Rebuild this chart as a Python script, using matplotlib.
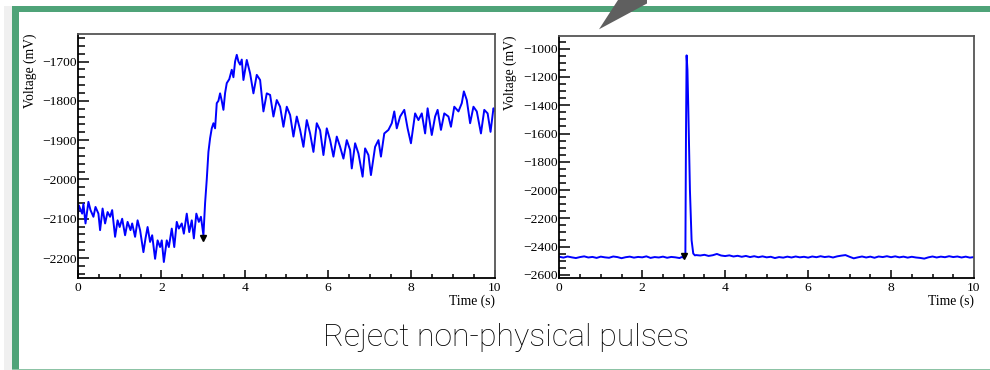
import matplotlib
matplotlib.use("Agg")
import matplotlib.pyplot as plt
import matplotlib.ticker as ticker
from matplotlib.patches import Rectangle, Polygon

# Pulse that is too slow / too long: time (s) and voltage (mV)
slow_t = [0.00, 0.02, 0.10, 0.13, 0.18, 0.25, 0.30, 0.37, 0.42, 0.49, 0.53, 0.59, 0.65, 0.71, 0.77,
          0.82, 0.89, 0.95, 1.00, 1.06, 1.13, 1.19, 1.26, 1.30, 1.37, 1.43, 1.49, 1.57, 1.62, 1.67,
          1.73, 1.78, 1.85, 1.91, 1.97, 2.01, 2.06, 2.13, 2.18, 2.25, 2.31, 2.37, 2.42, 2.49, 2.54,
          2.61, 2.67, 2.73, 2.78, 2.84, 2.90, 2.95, 3.01, 3.05, 3.09, 3.13, 3.17, 3.21, 3.25, 3.29,
          3.33, 3.37, 3.41, 3.45, 3.49, 3.53, 3.57, 3.63, 3.69, 3.73, 3.77, 3.81, 3.85, 3.89, 3.93,
          3.97, 4.05, 4.13, 4.21, 4.29, 4.37, 4.45, 4.53, 4.61, 4.69, 4.77, 4.85, 4.93, 5.01, 5.09,
          5.17, 5.25, 5.33, 5.41, 5.49, 5.57, 5.65, 5.73, 5.81, 5.89, 5.97, 6.05, 6.13, 6.21, 6.29,
          6.37, 6.45, 6.53, 6.57, 6.65, 6.73, 6.83, 6.89, 6.97, 7.03, 7.13, 7.21, 7.27, 7.35, 7.45,
          7.53, 7.59, 7.65, 7.73, 7.83, 7.91, 7.99, 8.09, 8.17, 8.25, 8.33, 8.39, 8.49, 8.57, 8.63,
          8.71, 8.79, 8.89, 8.95, 9.03, 9.13, 9.21, 9.26, 9.33, 9.41, 9.49, 9.57, 9.67, 9.75, 9.83,
          9.90, 9.97, 10.00]
slow_v = [-2085, -2066, -2087, -2062, -2112, -2057, -2078, -2095, -2070, -2087, -2129, -2074, -2112, -2083, -2095,
          -2078, -2146, -2104, -2121, -2100, -2142, -2108, -2129, -2112, -2146, -2104, -2129, -2185, -2150, -2121,
          -2159, -2142, -2202, -2155, -2172, -2155, -2210, -2155, -2172, -2125, -2172, -2108, -2125, -2112, -2138,
          -2087, -2134, -2104, -2150, -2087, -2108, -2095, -2142, -2060, -2000, -1930, -1895, -1870, -1857, -1870,
          -1806, -1800, -1781, -1800, -1823, -1780, -1755, -1745, -1721, -1740, -1700, -1683, -1700, -1708, -1695,
          -1747, -1696, -1730, -1781, -1734, -1747, -1827, -1781, -1785, -1840, -1798, -1815, -1866, -1815, -1836,
          -1891, -1840, -1874, -1917, -1849, -1883, -1930, -1857, -1875, -1938, -1870, -1900, -1942, -1891, -1917,
          -1947, -1900, -1925, -1972, -1908, -1934, -1993, -1921, -1938, -1989, -1917, -1900, -1942, -1883, -1874,
          -1857, -1827, -1870, -1840, -1823, -1870, -1908, -1832, -1849, -1832, -1883, -1819, -1887, -1840, -1823,
          -1874, -1832, -1840, -1866, -1815, -1827, -1806, -1776, -1798, -1857, -1815, -1827, -1883, -1823, -1832,
          -1879, -1819, -1825]

# Short spike on a flat baseline
spike_t = [0.0, 0.1, 0.2, 0.3, 0.4, 0.5, 0.6, 0.7, 0.8, 0.9, 1.0, 1.1, 1.2, 1.3, 1.4,
           1.5, 1.6, 1.7, 1.8, 1.9, 2.0, 2.1, 2.2, 2.3, 2.4, 2.5, 2.6, 2.7, 2.8, 2.9,
           2.95, 3.0, 3.04, 3.055, 3.07, 3.09, 3.11, 3.15, 3.19, 3.23, 3.27,
           3.3, 3.4, 3.5, 3.6, 3.7, 3.8, 3.9, 4.0, 4.1, 4.2, 4.3, 4.4, 4.5, 4.6,
           4.7, 4.8, 4.9, 5.0, 5.1, 5.2, 5.3, 5.4, 5.5, 5.6, 5.7, 5.8, 5.9, 6.0,
           6.1, 6.2, 6.3, 6.4, 6.5, 6.6, 6.7, 6.8, 6.9, 7.0, 7.1, 7.2, 7.3, 7.4,
           7.5, 7.6, 7.7, 7.8, 7.9, 8.0, 8.1, 8.2, 8.3, 8.4, 8.5, 8.6, 8.7, 8.8,
           8.9, 9.0, 9.1, 9.2, 9.3, 9.4, 9.5, 9.6, 9.7, 9.8, 9.9, 10.0]
spike_v = [-2472, -2478, -2470, -2476, -2481, -2474, -2469, -2477, -2473, -2480, -2471, -2476, -2479, -2470, -2474,
           -2482, -2475, -2471, -2478, -2473, -2476, -2469, -2480, -2474, -2477, -2471, -2479, -2473, -2476, -2481,
           -2474, -2478, -2470, -1600, -1047, -1150, -1413, -2001, -2355, -2449, -2462,
           -2460, -2463, -2458, -2466, -2461, -2452, -2463, -2467, -2462, -2470, -2465, -2472, -2466, -2474,
           -2468, -2475, -2469, -2476, -2472, -2481, -2474, -2478, -2471, -2477, -2470, -2476, -2472, -2478,
           -2470, -2475, -2468, -2474, -2470, -2477, -2469, -2464, -2460, -2472, -2483, -2476, -2470, -2477,
           -2471, -2479, -2470, -2474, -2468, -2475, -2469, -2476, -2471, -2478, -2472, -2477, -2480, -2485,
           -2476, -2470, -2477, -2471, -2475, -2468, -2474, -2470, -2477, -2471, -2478, -2474]

# trigger positions marked on each trace
trig_slow = (3.0, -2150)
trig_spike = (3.0, -2470)

plt.rcParams['font.family'] = ['Liberation Serif', 'DejaVu Serif']

fig = plt.figure(figsize=(9.9, 3.7), dpi=100)

# slide frame: shadow, green borders, pointer
W, H = 990.0, 370.0
def px(x, y):
  return (x / W, 1 - y / H)

fig.patches.append(Rectangle(px(4, 370), 8 / W, 364 / H, transform=fig.transFigure,
                             facecolor='#f0f0f0', edgecolor='none', zorder=0))
fig.patches.append(Rectangle(px(12, 370), 6.5 / W, 364 / H, transform=fig.transFigure,
                             facecolor='#4fa378', edgecolor='none', zorder=1))
fig.patches.append(Rectangle(px(12, 11.7), 978 / W, 5.7 / H, transform=fig.transFigure,
                             facecolor='#4fa378', edgecolor='none', zorder=1))
fig.patches.append(Rectangle(px(12, 370), 978 / W, 1.5 / H, transform=fig.transFigure,
                             facecolor='#8cc3a5', edgecolor='none', zorder=1))
fig.patches.append(Polygon([px(599, 29.3), px(618, 0), px(647, 0), px(647, 3.5)],
                           closed=True, transform=fig.transFigure,
                           facecolor='#5f5f5f', edgecolor='none', zorder=2))

ax1 = fig.add_axes([78 / W, 1 - 277.7 / H, 416.7 / W, 243.7 / H])
ax2 = fig.add_axes([559.3 / W, 1 - 277.7 / H, 414.7 / W, 241.7 / H])

def style_axis(ax, ymajor, yminor_div):
  ax.set_xlim(0, 10)
  ax.xaxis.set_major_locator(ticker.MultipleLocator(2))
  ax.xaxis.set_minor_locator(ticker.AutoMinorLocator(4))
  ax.yaxis.set_major_locator(ticker.MultipleLocator(ymajor))
  ax.yaxis.set_minor_locator(ticker.AutoMinorLocator(yminor_div))
  ax.tick_params(axis='both', which='both', direction='in', top=False, right=False,
                 labelsize=9.7, colors='black')
  ax.tick_params(axis='y', which='major', length=8, width=1.1, pad=1)
  ax.tick_params(axis='y', which='minor', length=5, width=1.1)
  ax.tick_params(axis='x', which='major', length=5.8, width=1.1, pad=3)
  ax.tick_params(axis='x', which='minor', length=3, width=1.1)
  for side in ['left', 'bottom']:
    ax.spines[side].set_linewidth(1.3)
    ax.spines[side].set_color('black')
  for side in ['top', 'right']:
    ax.spines[side].set_linewidth(1.3)
    ax.spines[side].set_color('#555555')
  ax.set_ylabel("Voltage (mV)", fontsize=9.8, loc='top')
  ax.set_xlabel("Time (s)", fontsize=9.8, loc='right')
  ax.xaxis.label.set_va('center')

style_axis(ax1, 100, 5)
ax1.set_ylim(-2250, -1630)
ax1.yaxis.set_label_coords(-0.098, 1.0)
ax1.xaxis.set_label_coords(1.0, -0.098)
ax1.plot(slow_t, slow_v, color='#0000ff', lw=1.4)
ax1.plot(*trig_slow, marker='v', color='black', markersize=4.5)

style_axis(ax2, 200, 4)
ax2.set_ylim(-2620, -910)
ax2.yaxis.set_label_coords(-0.101, 1.0)
ax2.xaxis.set_label_coords(1.0, -0.099)
ax2.plot(spike_t, spike_v, color='#0000ff', lw=1.4)
ax2.plot(*trig_spike, marker='v', color='black', markersize=4.5)

fig.text(506 / W, 1 - 338 / H, "Reject non-physical pulses", ha='center', va='center',
         fontsize=23, family='Roboto', fontweight='light', color='black')

fig.savefig("out.png", dpi=100)
